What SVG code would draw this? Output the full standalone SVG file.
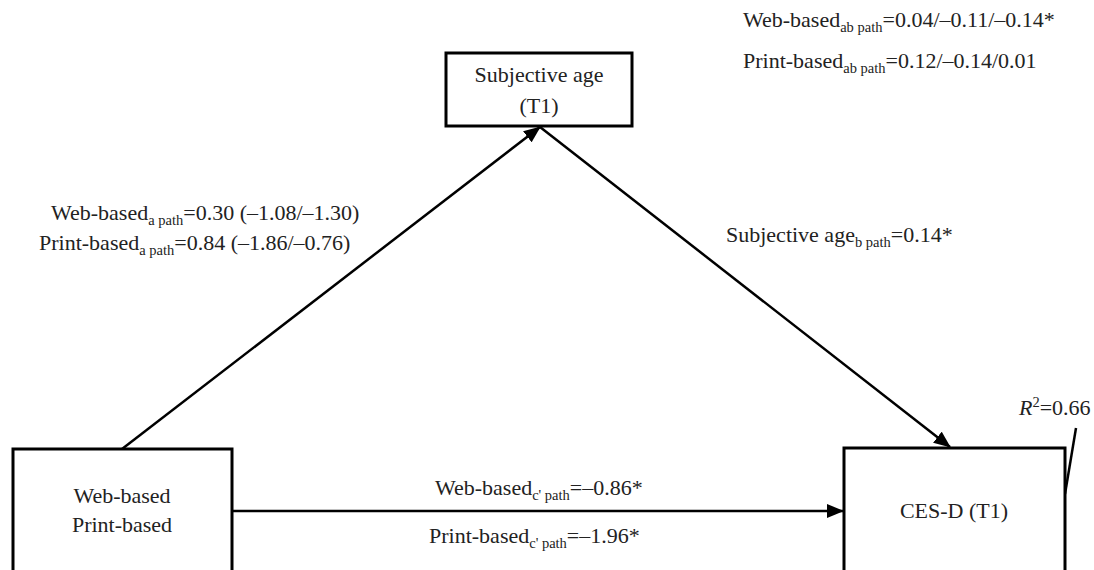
<svg xmlns="http://www.w3.org/2000/svg" width="1094" height="570" viewBox="0 0 1094 570">
<defs>
<style>
.box{fill:#fff;stroke:#000;stroke-width:3}
.ln{fill:none;stroke:#000;stroke-width:2.5}
text{font-family:"Liberation Serif","Times New Roman",serif;font-size:22px;fill:#222}
.c{text-anchor:middle}
.sub{font-size:14.5px}
</style>
<marker id="ah" markerUnits="userSpaceOnUse" markerWidth="18" markerHeight="14" refX="16" refY="7" orient="auto">
<path d="M0,0 L17,7 L0,14 Z" fill="#000"/>
</marker>
</defs>
<rect width="1094" height="570" fill="#fff"/>
<g id="connectors">
<line class="ln" x1="122" y1="449" x2="540" y2="127" marker-end="url(#ah)"/>
<line class="ln" x1="540" y1="127" x2="950" y2="447" marker-end="url(#ah)"/>
<line class="ln" x1="232" y1="511" x2="843" y2="511" marker-end="url(#ah)"/>
<line class="ln" x1="1076" y1="428" x2="1065" y2="494"/>
</g>
<g id="node-subjective-age">
<rect class="box" x="446" y="53" width="186" height="73"/>
<text class="c" x="539" y="82">Subjective age</text>
<text class="c" x="539" y="113">(T1)</text>
</g>
<g id="node-intervention">
<rect class="box" x="13" y="449" width="219" height="140"/>
<text class="c" x="122" y="503">Web-based</text>
<text class="c" x="122" y="532">Print-based</text>
</g>
<g id="node-cesd">
<rect class="box" x="844" y="448" width="221" height="140"/>
<text class="c" x="954" y="518">CES-D (T1)</text>
</g>
<g id="labels">
<text x="743" y="27">Web-based<tspan class="sub" dy="5">ab path</tspan><tspan dy="-5">=0.04/–0.11/–0.14*</tspan></text>
<text x="743" y="68">Print-based<tspan class="sub" dy="5">ab path</tspan><tspan dy="-5">=0.12/–0.14/0.01</tspan></text>
<text x="51" y="220">Web-based<tspan class="sub" dy="5">a path</tspan><tspan dy="-5">=0.30 (–1.08/–1.30)</tspan></text>
<text x="39" y="250">Print-based<tspan class="sub" dy="5">a path</tspan><tspan dy="-5">=0.84 (–1.86/–0.76)</tspan></text>
<text x="726" y="242">Subjective age<tspan class="sub" dy="5">b path</tspan><tspan dy="-5">=0.14*</tspan></text>
<text x="435" y="495">Web-based<tspan class="sub" dy="5">c' path</tspan><tspan dy="-5">=–0.86*</tspan></text>
<text x="429" y="543">Print-based<tspan class="sub" dy="5">c' path</tspan><tspan dy="-5">=–1.96*</tspan></text>
<text x="1019" y="415"><tspan font-style="italic">R</tspan><tspan class="sub" font-size="10px" dy="-8">2</tspan><tspan dy="8">=0.66</tspan></text>
</g>
</svg>
